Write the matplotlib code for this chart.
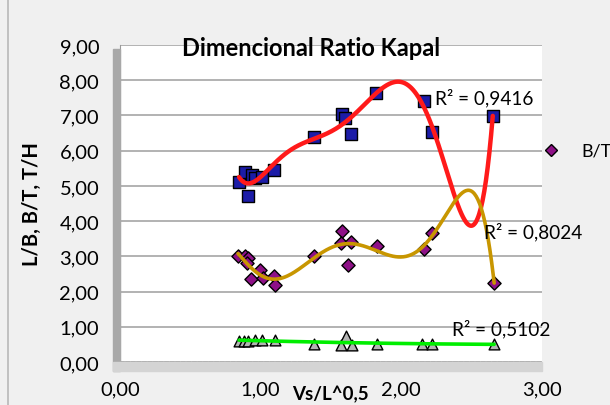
import matplotlib.pyplot as plt
import numpy as np
from matplotlib.patches import Rectangle
from matplotlib.lines import Line2D

plt.rcParams['font.family'] = ['Lato', 'DejaVu Sans']

# Vs/L^0,5 vs ratios
x_lb = [0.846, 0.888, 0.910, 0.938, 0.96, 1.01, 1.094, 1.379, 1.578, 1.60, 1.642, 1.82, 2.16, 2.22, 2.65]
y_lb = [5.12, 5.40, 4.72, 5.31, 5.22, 5.26, 5.45, 6.39, 7.05, 6.92, 6.48, 7.64, 7.41, 6.53, 6.99]

x_bt = [0.839, 0.89, 0.91, 0.90, 0.93, 0.995, 1.016, 1.094, 1.10, 1.38, 1.578, 1.57, 1.64, 1.62, 1.826, 2.16, 2.22, 2.66]
y_bt = [3.00, 3.01, 2.95, 2.80, 2.36, 2.61, 2.38, 2.45, 2.19, 3.01, 3.72, 3.38, 3.41, 2.76, 3.30, 3.21, 3.65, 2.24]

x_th = [0.846, 0.88, 0.91, 0.96, 1.01, 1.10, 1.38, 1.57, 1.61, 1.65, 1.83, 2.15, 2.22, 2.66]
y_th = [0.60, 0.60, 0.60, 0.62, 0.63, 0.63, 0.52, 0.48, 0.74, 0.48, 0.51, 0.51, 0.51, 0.51]

r2_labels = ['R² = 0,9416', 'R² = 0,8024', 'R² = 0,5102']
y_ticks = np.arange(0, 10, 1)
x_ticks = np.arange(0, 4, 1)


def trend(ax, x, y, color, lw, deg=6):
    c = np.polyfit(x, y, deg)
    xs = np.linspace(min(x), max(x), 300)
    ax.plot(xs, np.polyval(c, xs), color=color, lw=lw, zorder=4, solid_capstyle='round')


fig = plt.figure(figsize=(6.1, 4.06), dpi=100, facecolor='#f0f0f0')
W, H = 610, 406
ax = fig.add_axes([120 / W, 1 - 363 / H, 422 / W, 317 / H])

# plot area shadow
fig.patches.append(Rectangle((113 / W, 1 - 372 / H), 7 / W, 322 / H, transform=fig.transFigure,
                             color='#a8a8a8', zorder=0))
fig.patches.append(Rectangle((113 / W, 1 - 372 / H), 429 / W, 9 / H, transform=fig.transFigure,
                             color='#d4d4d4', zorder=0))
fig.add_artist(Line2D([8 / W, 8 / W], [0, 1], color='#b8b8b8', lw=1.2))

ax.set_facecolor('white')
ax.set_xlim(0, 3)
ax.set_ylim(0, 9)
ax.set_yticks(y_ticks)
ax.set_xticks(x_ticks)
ax.set_yticklabels(['%d,00' % v for v in y_ticks], fontsize=14.5)
ax.set_xticklabels(['%d,00' % v for v in x_ticks], fontsize=14.5)
ax.tick_params(length=0, pad=13)
ax.tick_params(axis='y', pad=15)
ax.yaxis.grid(True, color='#a6a6a6', lw=1.2)
ax.set_axisbelow(True)
for s in ['top', 'right']:
    ax.spines[s].set_visible(False)
ax.spines['left'].set_color('#9a9a9a')
ax.spines['bottom'].set_linestyle((0, (3, 2)))
ax.spines['bottom'].set_color('black')

trend(ax, x_lb, y_lb, '#ff1a1a', 3.2)
trend(ax, x_bt, y_bt, '#c89600', 2.6)
trend(ax, x_th, y_th, '#00ee00', 2.6, deg=2)

ax.scatter(x_lb, y_lb, marker='s', s=80, color='#1c1ca8', edgecolor='black', lw=1, zorder=3)
ax.scatter(x_bt, y_bt, marker='D', s=45, color='#8e1187', edgecolor='black', lw=1, zorder=3)
ax.scatter(x_th, y_th, marker='^', s=60, color='#b4b4b4', edgecolor='black', lw=1, zorder=3)

fig.text(311 / W, 1 - 49 / H, 'Dimencional Ratio Kapal', fontsize=17, fontweight='bold',
         ha='center', va='center')
fig.text(32 / W, 1 - 204 / H, 'L/B, B/T, T/H', fontsize=14.5, fontweight='bold',
         rotation=90, ha='center', va='center')
fig.text(330 / W, 1 - 395 / H, 'Vs/L^0,5', fontsize=13.5, fontweight='bold', ha='center', va='center')

fig.text(435 / W, 1 - 98 / H, r2_labels[0], fontsize=13.7, va='center')
fig.text(484 / W, 1 - 232 / H, r2_labels[1], fontsize=13.7, va='center')
fig.text(452 / W, 1 - 329 / H, r2_labels[2], fontsize=13.7, va='center')

# legend entry cut off at right edge
fig.add_artist(Line2D([551 / W], [1 - 151 / H], marker='D', markersize=6.5, color='#8e1187',
                      markeredgecolor='black', lw=0))
fig.text(581 / W, 1 - 152 / H, 'B/T', fontsize=13, va='center')

fig.savefig('out.png', dpi=100, facecolor=fig.get_facecolor())
